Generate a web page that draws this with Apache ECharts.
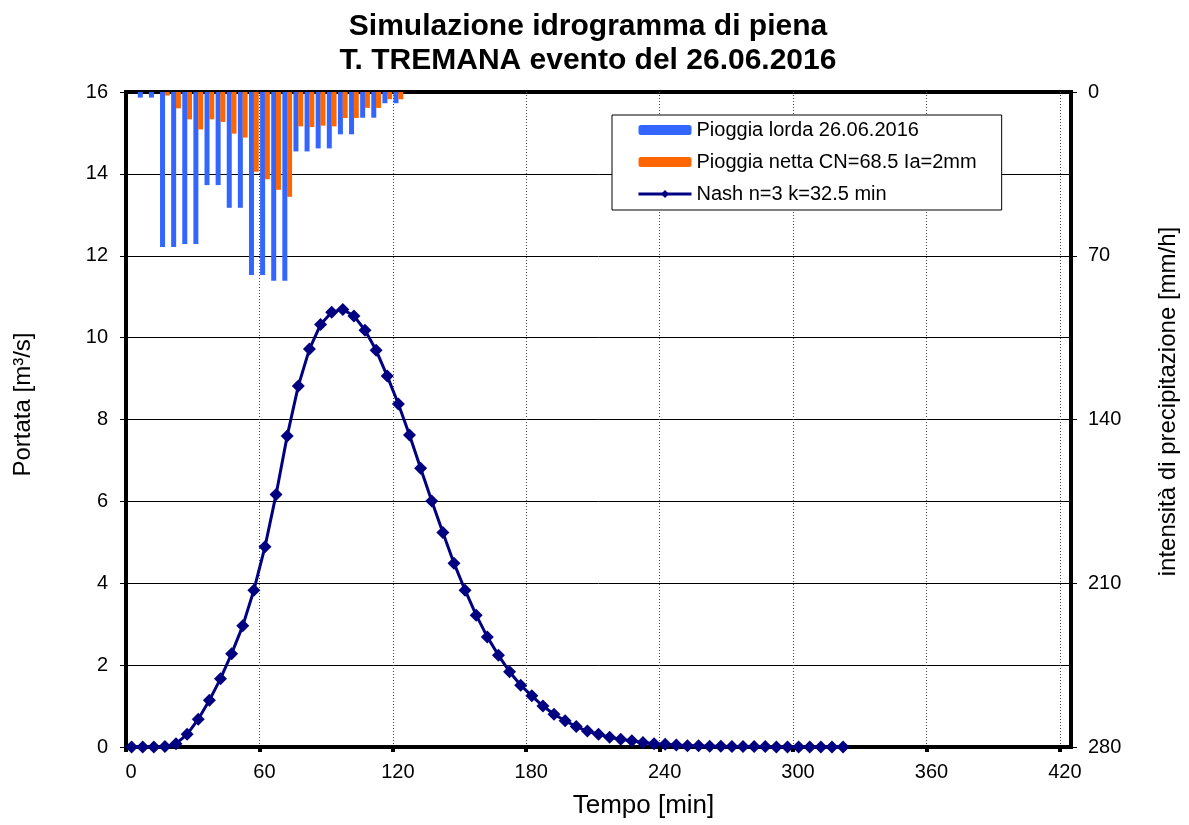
<!DOCTYPE html>
<html>
<head>
<meta charset="utf-8">
<script src="https://cdn.jsdelivr.net/npm/echarts@6/dist/echarts.min.js"></script>
<style>
html,body{margin:0;padding:0;background:#fff;}
#chart{width:1189px;height:825px;}
</style>
</head>
<body>
<div id="chart"></div>
<script>
// ---- data ----
var titleText = 'Simulazione idrogramma di piena\nT. TREMANA evento del 26.06.2016';
var xTitle = 'Tempo [min]';
var yLeftTitle = 'Portata [m³/s]';
var yRightTitle = 'intensità di precipitazione [mm/h]';
var seriesNames = ['Pioggia lorda 26.06.2016', 'Pioggia netta CN=68.5 Ia=2mm', 'Nash n=3 k=32.5 min'];

// rain intervals (centre of each 5-minute step, min)
var rainTimes = [7.5, 12.5, 17.5, 22.5, 27.5, 32.5, 37.5, 42.5, 47.5, 52.5, 57.5, 62.5,
                 67.5, 72.5, 77.5, 82.5, 87.5, 92.5, 97.5, 102.5, 107.5, 112.5, 117.5, 122.5];
// gross rainfall intensity [mm/h]
var rainGross = [2.4, 2.4, 66.3, 66.3, 65.0, 65.0, 39.8, 39.8, 49.5, 49.5, 78.2, 78.2,
                 80.7, 80.7, 25.4, 25.4, 24.1, 24.1, 18.1, 18.1, 11.0, 11.0, 4.8, 4.8];
// net rainfall intensity [mm/h]
var rainNet = [0, 0, 1.5, 7.0, 11.7, 16.0, 11.7, 12.8, 17.8, 19.5, 34.1, 37.3,
               41.8, 44.8, 14.7, 15.0, 14.4, 14.7, 11.1, 11.1, 6.8, 6.8, 3.1, 3.1];

// Nash hydrograph
var nashTimes = [2.5, 7.5, 12.5, 17.5, 22.5, 27.5, 32.5, 37.5, 42.5, 47.5, 52.5, 57.5,
                 62.5, 67.5, 72.5, 77.5, 82.5, 87.5, 92.5, 97.5, 102.5, 107.5, 112.5, 117.5,
                 122.5, 127.5, 132.5, 137.5, 142.5, 147.5, 152.5, 157.5, 162.5, 167.5, 172.5, 177.5,
                 182.5, 187.5, 192.5, 197.5, 202.5, 207.5, 212.5, 217.5, 222.5, 227.5, 232.5, 237.5,
                 242.5, 247.5, 252.5, 257.5, 262.5, 267.5, 272.5, 277.5, 282.5, 287.5, 292.5, 297.5,
                 302.5, 307.5, 312.5, 317.5, 322.5];
var nashFlow = [0, 0, 0, 0.01, 0.08, 0.31, 0.68, 1.14, 1.67, 2.28, 2.96, 3.83,
                4.89, 6.17, 7.60, 8.82, 9.72, 10.32, 10.62, 10.69, 10.53, 10.18, 9.69, 9.06,
                8.38, 7.62, 6.81, 6.01, 5.24, 4.49, 3.83, 3.22, 2.69, 2.24, 1.84, 1.51,
                1.25, 1.00, 0.80, 0.64, 0.50, 0.39, 0.31, 0.24, 0.19, 0.15, 0.11, 0.08,
                0.07, 0.05, 0.03, 0.03, 0.02, 0.02, 0.01, 0.01, 0.01, 0.01, 0, 0,
                0, 0, 0, 0, 0];

var xTicks = {min: 0, max: 425, interval: 60};
var yLeftTicks = {min: 0, max: 16, interval: 2};
var yRightTicks = {min: 0, max: 280, interval: 70};

// ---- chart ----
function pairs(xs, ys) { return xs.map(function (x, i) { return [x, ys[i]]; }); }

var FONT = '"Liberation Sans", Arial, sans-serif';
var chart = echarts.init(document.getElementById('chart'));
chart.setOption({
  backgroundColor: '#fff',
  animation: false,
  textStyle: {fontFamily: FONT},
  title: {
    text: titleText,
    left: 583,
    textAlign: 'center',
    top: 5,
    padding: 5,
    textStyle: {fontFamily: FONT, fontSize: 30, fontWeight: 'bold', color: '#000', lineHeight: 34}
  },
  grid: {
    left: 126, top: 92, width: 945, height: 655,
    show: true, borderColor: '#000', borderWidth: 4, backgroundColor: 'transparent'
  },
  legend: {
    orient: 'vertical',
    left: 612, top: 115,
    padding: [5, 25, 6, 25],
    itemGap: 12,
    itemWidth: 53, itemHeight: 10,
    backgroundColor: '#fff',
    borderColor: '#000', borderWidth: 1,
    textStyle: {fontFamily: FONT, fontSize: 20, color: '#000', lineHeight: 20},
    data: [
      {name: seriesNames[0]},
      {name: seriesNames[1]},
      {name: seriesNames[2], lineStyle: {width: 3}}
    ]
  },
  xAxis: [{
    type: 'value',
    min: xTicks.min, max: xTicks.max, interval: xTicks.interval,
    name: xTitle, nameLocation: 'middle', nameGap: 46,
    nameTextStyle: {fontFamily: FONT, fontSize: 26, color: '#000', padding: [0, 0, 0, 90]},
    axisLine: {show: true, onZero: false, lineStyle: {color: '#000', width: 4}},
    axisTick: {show: true, length: 5, lineStyle: {color: '#000', width: 4}},
    axisLabel: {fontFamily: FONT, fontSize: 20, color: '#000', margin: 15, showMaxLabel: false, padding: [0, 0, 0, 10]},
    splitLine: {show: true, lineStyle: {color: '#444', width: 1, type: [1, 2]}}
  }],
  yAxis: [{
    type: 'value', position: 'left',
    min: yLeftTicks.min, max: yLeftTicks.max, interval: yLeftTicks.interval,
    name: yLeftTitle, nameLocation: 'middle', nameGap: 91, nameRotate: 90,
    nameTextStyle: {fontFamily: FONT, fontSize: 24, color: '#000', padding: [0, 0, 0, 30]},
    axisLine: {show: true, onZero: false, lineStyle: {color: '#000', width: 4}},
    axisTick: {show: true, length: 6, lineStyle: {color: '#000', width: 1}},
    axisLabel: {fontFamily: FONT, fontSize: 20, color: '#000', margin: 18},
    splitLine: {show: true, lineStyle: {color: '#000', width: 1}}
  }, {
    type: 'value', position: 'right', inverse: true,
    min: yRightTicks.min, max: yRightTicks.max, interval: yRightTicks.interval,
    name: yRightTitle, nameLocation: 'middle', nameGap: 85, nameRotate: 90,
    nameTextStyle: {fontFamily: FONT, fontSize: 24, color: '#000', padding: [0, 0, 0, 36]},
    axisLine: {show: true, onZero: false, lineStyle: {color: '#000', width: 4}},
    axisTick: {show: true, length: 6, lineStyle: {color: '#000', width: 1}},
    axisLabel: {fontFamily: FONT, fontSize: 20, color: '#000', margin: 17},
    splitLine: {show: false}
  }],
  series: [{
    name: seriesNames[0], type: 'bar',
    xAxisIndex: 0, yAxisIndex: 1,
    barWidth: 5, barGap: '-5%',
    itemStyle: {color: '#3366FF'},
    data: pairs(rainTimes, rainGross)
  }, {
    name: seriesNames[1], type: 'bar',
    xAxisIndex: 0, yAxisIndex: 1,
    barWidth: 5, barGap: '-5%',
    itemStyle: {color: '#FF6600'},
    data: pairs(rainTimes, rainNet)
  }, {
    name: seriesNames[2], type: 'line',
    xAxisIndex: 0, yAxisIndex: 0,
    symbol: 'diamond', symbolSize: 13,
    lineStyle: {color: '#000080', width: 3},
    itemStyle: {color: '#000080'},
    data: pairs(nashTimes, nashFlow),
    z: 5
  }]
});
</script>
</body>
</html>
